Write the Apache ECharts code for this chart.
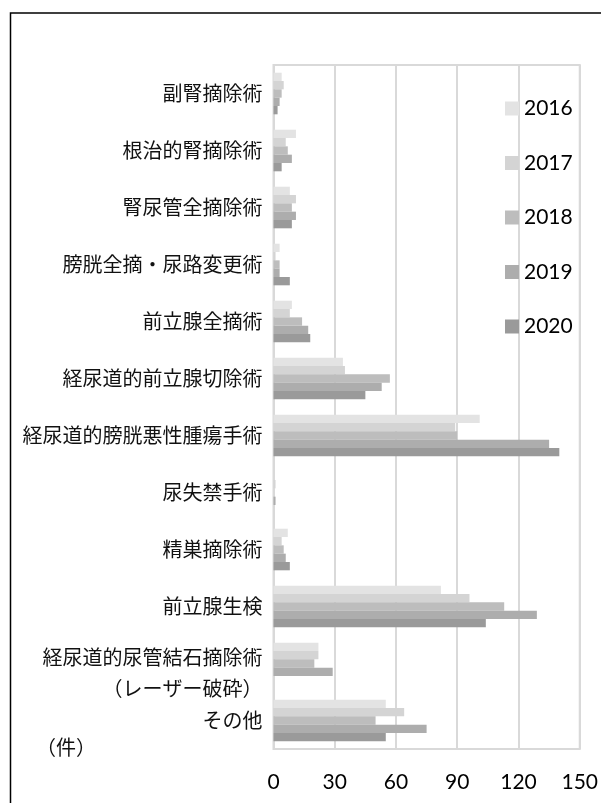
<!DOCTYPE html>
<html>
<head>
<meta charset="utf-8">
<script src="https://cdn.jsdelivr.net/npm/echarts@6/dist/echarts.min.js"></script>
<style>
html, body { margin: 0; padding: 0; background: #fff; }
#chart { width: 601px; height: 803px; }
</style>
</head>
<body>
<div id="chart"></div>
<script>
var categories = ['副腎摘除術', '根治的腎摘除術', '腎尿管全摘除術', '膀胱全摘・尿路変更術',
	'前立腺全摘術', '経尿道的前立腺切除術', '経尿道的膀胱悪性腫瘍手術', '尿失禁手術',
	'精巣摘除術', '前立腺生検', '経尿道的尿管結石摘除術\n（レーザー破砕）', 'その他'];
var years = ['2016', '2017', '2018', '2019', '2020'];
var data2016 = [4, 11, 8, 3, 9, 34, 101, 0, 7, 82, 22, 55];
var data2017 = [5, 6, 11, 1, 8, 35, 89, 1, 4, 96, 22, 64];
var data2018 = [4, 7, 9, 3, 14, 57, 90, 0, 5, 113, 20, 50];
var data2019 = [3, 9, 11, 3, 17, 53, 135, 1, 6, 129, 29, 75];
var data2020 = [2, 4, 9, 8, 18, 45, 140, 0, 8, 104, 0, 55];
var xTicks = [0, 30, 60, 90, 120, 150];
var colors = ['#e3e3e3', '#d4d4d4', '#bdbdbd', '#adadad', '#9a9a9a'];

var chart = echarts.init(document.getElementById('chart'));
var allData = [data2016, data2017, data2018, data2019, data2020];

var series = [];
for (var i = 0; i < years.length; i++) {
	series.push({
		name: years[i],
		type: 'bar',
		barGap: '0%',
		barCategoryGap: '27%',
		itemStyle: { color: colors[i] },
		data: allData[i]
	});
}

var labelFont = 'Noto Sans CJK JP';

var option = {
	animation: false,
	backgroundColor: '#fff',
	color: colors,
	grid: {
		left: 273.5, right: 20, top: 65, bottom: 54,
		show: true, borderColor: '#d9d9d9', borderWidth: 2
	},
	legend: {
		orient: 'vertical',
		left: 500, top: 93,
		itemWidth: 14, itemHeight: 14,
		itemGap: 33.5,
		icon: 'rect',
		data: years,
		textStyle: { fontFamily: 'Lato', fontSize: 21, color: '#000' }
	},
	xAxis: {
		type: 'value',
		min: xTicks[0], max: xTicks[xTicks.length - 1], interval: 30,
		axisLine: { show: false },
		axisTick: { show: false },
		splitLine: { lineStyle: { color: '#d9d9d9', width: 2 } },
		axisLabel: { margin: 23, fontFamily: 'Lato', fontSize: 21, color: '#000' }
	},
	yAxis: {
		type: 'category',
		inverse: true,
		data: categories,
		axisLine: { lineStyle: { color: '#d9d9d9', width: 2 } },
		axisTick: { show: false },
		axisLabel: {
			margin: 11,
			fontFamily: labelFont,
			fontSize: 20,
			color: '#111',
			align: 'right',
			formatter: function (v) {
				if (v.indexOf('\n') < 0) return v;
				var parts = v.split('\n');
				// push the two-line label down a bit, like the original
				return '{s| }\n{a|' + parts[0] + '}\n{a|' + parts[1] + '}';
			},
			rich: {
				s: { fontSize: 2, lineHeight: 18 },
				a: { fontFamily: labelFont, fontSize: 20, lineHeight: 31, color: '#111' }
			}
		}
	},
	graphic: [
		{
			type: 'rect',
			shape: { x: 10.5, y: 13, width: 700, height: 900 },
			style: { fill: 'none', stroke: '#000', lineWidth: 1.5 }
		},
		{
			type: 'text',
			left: 36, top: 737,
			style: { text: '（件）', font: '20px "Noto Sans CJK JP"', fill: '#111' }
		}
	],
	series: series
};
chart.setOption(option);
</script>
</body>
</html>
